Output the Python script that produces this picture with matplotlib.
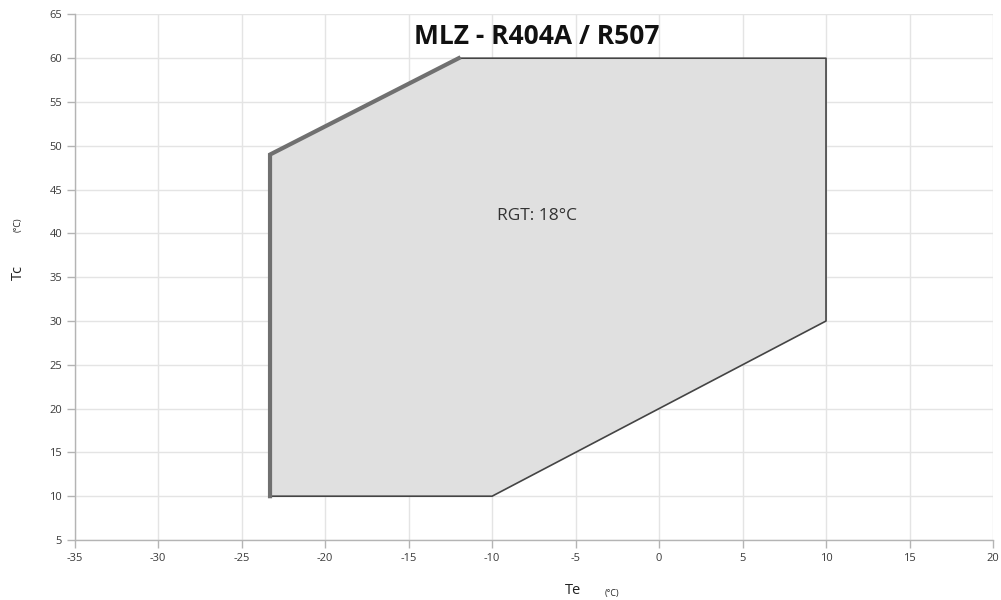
import matplotlib
matplotlib.use("Agg")
import matplotlib.pyplot as plt

plt.rcParams['font.family'] = ['Open Sans', 'DejaVu Sans']
plt.rcParams['axes.unicode_minus'] = False

te = [-23.3, -23.3, -12.0, 10.0, 10.0, -10.0]
tc = [10.0, 49.0, 60.0, 60.0, 30.0, 10.0]
x_ticks = [-35, -30, -25, -20, -15, -10, -5, 0, 5, 10, 15, 20]
y_ticks = [5, 10, 15, 20, 25, 30, 35, 40, 45, 50, 55, 60, 65]
title = "MLZ - R404A / R507"
note = "RGT: 18°C"

fig = plt.figure(figsize=(10.01, 6.0), dpi=100)
ax = fig.add_axes([0.0746, 0.1, 0.9174, 0.876])
ax.set_xlim(-35, 20)
ax.set_ylim(5, 65)
ax.set_xticks(x_ticks)
ax.set_yticks(y_ticks)
ax.grid(True, color='#e4e4e4', linewidth=1.0)
ax.set_axisbelow(True)
for s in ['top', 'right']:
    ax.spines[s].set_visible(False)
for s in ['left', 'bottom']:
    ax.spines[s].set_color('#b4b4b4')
    ax.spines[s].set_linewidth(1.0)
ax.tick_params(axis='both', colors='#b4b4b4', labelcolor='#3a3a3a', labelsize=8, length=6, width=1.0)
ax.tick_params(axis='y', pad=3)

ax.fill(te, tc, facecolor='#e0e0e0', edgecolor='none', zorder=2)
# thin edges
ax.plot([te[2], te[3], te[4], te[5], te[0]], [tc[2], tc[3], tc[4], tc[5], tc[0]],
        color='#444444', linewidth=1.2, zorder=3)
# thick edges
ax.plot([te[0], te[1], te[2]], [tc[0], tc[1], tc[2]], color='#707070', linewidth=3.0,
        solid_joinstyle='miter', zorder=3)

ax.text(-7.3, 62.5, title, fontsize=19, fontweight='bold', ha='center', va='center', color='#111111')
ax.text(-9.7, 42.0, note, fontsize=12.5, ha='left', va='center', color='#333333')

fig.text(0.5725, 0.003, "Te", fontsize=10.5, ha='center', va='bottom', color='#222222')
fig.text(0.611, 0.004, "(°C)", fontsize=6.5, ha='center', va='bottom', color='#222222')
fig.text(0.018, 0.545, "Tc", fontsize=10.5, ha='center', va='center', rotation=90, color='#222222')
fig.text(0.018, 0.625, "(°C)", fontsize=6.5, ha='center', va='center', rotation=90, color='#222222')

fig.savefig("out.png", dpi=100)
